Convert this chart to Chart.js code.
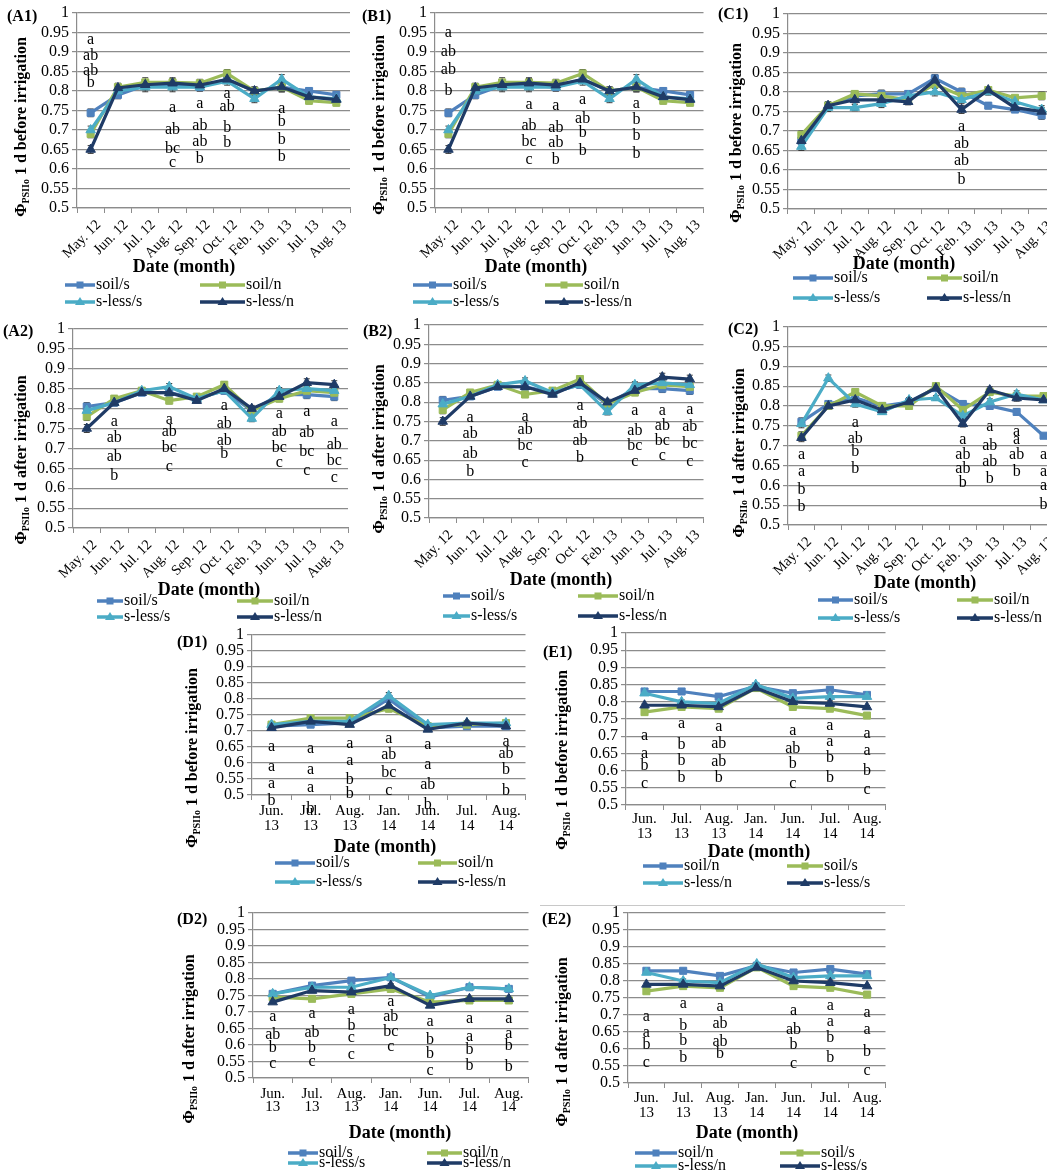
<!DOCTYPE html>
<html>
<head>
<meta charset="utf-8">
<script src="https://cdn.jsdelivr.net/npm/chart.js@4.4.1/dist/chart.umd.min.js"></script>
<style>
  html, body { margin: 0; padding: 0; background: #fff; }
  #fig { position: relative; width: 1047px; height: 1172px; overflow: hidden; }
  #fig canvas { position: absolute; }
  .rule { position: absolute; left: 540px; top: 905px; width: 365px; border-top: 1px solid #c8c8c8; }
</style>
</head>
<body>
<div id="fig"><div class="rule"></div></div>
<script>
// ---- categories / names / ticks ----
const monthsABC = ['May. 12', 'Jun. 12', 'Jul. 12', 'Aug. 12', 'Sep. 12', 'Oct. 12', 'Feb. 13', 'Jun. 13', 'Jul. 13', 'Aug. 13'];
const monthsDE = [['Jun.', '13'], ['Jul.', '13'], ['Aug.', '13'], ['Jan.', '14'], ['Jun.', '14'], ['Jul.', '14'], ['Aug.', '14']];
const seriesNames = ['soil/s', 'soil/n', 's-less/s', 's-less/n'];
const seriesNamesE = ['soil/n', 'soil/s', 's-less/n', 's-less/s'];
const yTickValues = [0.5, 0.55, 0.6, 0.65, 0.7, 0.75, 0.8, 0.85, 0.9, 0.95, 1];

// ---- A1 / B1 : before irrigation ----
const a1SoilS = [0.744, 0.79, 0.815, 0.815, 0.81, 0.83, 0.80, 0.81, 0.80, 0.79];
const a1SoilN = [0.69, 0.81, 0.822, 0.822, 0.82, 0.845, 0.80, 0.81, 0.775, 0.77];
const a1LessS = [0.70, 0.80, 0.81, 0.81, 0.81, 0.825, 0.78, 0.83, 0.785, 0.78];
const a1LessN = [0.65, 0.808, 0.816, 0.82, 0.815, 0.83, 0.80, 0.81, 0.785, 0.778];
const a1Err = [0.01, 0.01, 0.012, 0.012, 0.01, 0.01, 0.01, 0.012, 0.008, 0.008];

// ---- C1 ----
const c1SoilS = [0.675, 0.765, 0.79, 0.795, 0.795, 0.835, 0.80, 0.765, 0.755, 0.74];
const c1SoilN = [0.69, 0.765, 0.795, 0.79, 0.78, 0.82, 0.79, 0.805, 0.785, 0.79];
const c1LessS = [0.66, 0.76, 0.76, 0.77, 0.79, 0.80, 0.78, 0.80, 0.775, 0.755];
const c1LessN = [0.675, 0.765, 0.78, 0.78, 0.775, 0.83, 0.755, 0.805, 0.76, 0.75];
const c1Err = [0.01, 0.01, 0.008, 0.01, 0.008, 0.01, 0.01, 0.008, 0.006, 0.01];

// ---- A2 / B2 : after irrigation ----
const a2SoilS = [0.805, 0.815, 0.84, 0.84, 0.825, 0.845, 0.795, 0.835, 0.835, 0.83];
const a2SoilN = [0.78, 0.825, 0.845, 0.82, 0.83, 0.86, 0.795, 0.825, 0.845, 0.84];
const a2LessS = [0.795, 0.815, 0.845, 0.855, 0.825, 0.845, 0.775, 0.845, 0.85, 0.845];
const a2LessN = [0.75, 0.815, 0.84, 0.84, 0.82, 0.85, 0.80, 0.83, 0.865, 0.86];
const a2Err = [0.01, 0.008, 0.006, 0.008, 0.006, 0.008, 0.008, 0.008, 0.01, 0.01];

// ---- C2 ----
const c2SoilS = [0.76, 0.805, 0.82, 0.80, 0.81, 0.845, 0.805, 0.80, 0.785, 0.725];
const c2SoilN = [0.725, 0.80, 0.835, 0.80, 0.80, 0.85, 0.79, 0.835, 0.825, 0.825];
const c2LessS = [0.755, 0.87, 0.805, 0.785, 0.815, 0.82, 0.775, 0.81, 0.83, 0.815];
const c2LessN = [0.72, 0.80, 0.815, 0.79, 0.81, 0.845, 0.755, 0.84, 0.82, 0.815];
const c2Err = [0.01, 0.008, 0.008, 0.006, 0.006, 0.006, 0.008, 0.008, 0.008, 0.006];

// ---- D1 ----
const d1SoilS = [0.715, 0.72, 0.725, 0.80, 0.71, 0.715, 0.715];
const d1SoilN = [0.72, 0.74, 0.74, 0.77, 0.715, 0.72, 0.725];
const d1LessS = [0.72, 0.73, 0.73, 0.81, 0.72, 0.725, 0.725];
const d1LessN = [0.71, 0.73, 0.72, 0.78, 0.705, 0.725, 0.715];
const d1Err = [0.006, 0.008, 0.006, 0.01, 0.006, 0.006, 0.008];

// ---- E1 / E2 ----
const e1SoilN = [0.83, 0.83, 0.815, 0.845, 0.825, 0.835, 0.82];
const e1SoilS = [0.77, 0.785, 0.78, 0.84, 0.785, 0.78, 0.76];
const e1LessN = [0.825, 0.80, 0.795, 0.85, 0.81, 0.815, 0.815];
const e1LessS = [0.79, 0.79, 0.785, 0.84, 0.80, 0.795, 0.785];
const e1Err = [0.004, 0.006, 0.004, 0.004, 0.004, 0.008, 0.004];

// ---- D2 ----
const d2SoilS = [0.755, 0.78, 0.795, 0.805, 0.745, 0.775, 0.77];
const d2SoilN = [0.745, 0.74, 0.755, 0.77, 0.73, 0.735, 0.735];
const d2LessS = [0.755, 0.775, 0.775, 0.805, 0.75, 0.775, 0.77];
const d2LessN = [0.73, 0.765, 0.76, 0.78, 0.72, 0.74, 0.74];
const d2Err = [0.005, 0.005, 0.005, 0.006, 0.005, 0.005, 0.005];

// ---- significance letters: [category index, letter, value] ----
const a1Letters = [[0,'a',0.932],[0,'ab',0.889],[0,'ab',0.853],[0,'b',0.82],
  [3,'a',0.756],[3,'ab',0.70],[3,'bc',0.652],[3,'c',0.615],
  [4,'a',0.767],[4,'ab',0.711],[4,'ab',0.671],[4,'b',0.626],
  [5,'a',0.793],[5,'ab',0.759],[5,'b',0.705],[5,'b',0.668],
  [7,'a',0.754],[7,'b',0.72],[7,'b',0.675],[7,'b',0.632]];
const b1Letters = [[0,'a',0.948],[0,'ab',0.901],[0,'ab',0.854],[0,'b',0.80],
  [3,'a',0.764],[3,'ab',0.712],[3,'bc',0.669],[3,'c',0.624],
  [4,'a',0.761],[4,'ab',0.706],[4,'ab',0.667],[4,'b',0.624],
  [5,'a',0.777],[5,'ab',0.729],[5,'b',0.693],[5,'b',0.646],
  [7,'a',0.766],[7,'b',0.725],[7,'b',0.684],[7,'b',0.639]];
const c1Letters = [[6,'a',0.711],[6,'ab',0.667],[6,'ab',0.623],[6,'b',0.576]];
const a2Letters = [[1,'a',0.766],[1,'ab',0.727],[1,'ab',0.68],[1,'b',0.632],
  [3,'a',0.772],[3,'ab',0.741],[3,'bc',0.702],[3,'c',0.655],
  [5,'a',0.808],[5,'ab',0.762],[5,'ab',0.72],[5,'b',0.686],
  [7,'a',0.786],[7,'ab',0.741],[7,'bc',0.702],[7,'c',0.663],
  [8,'a',0.791],[8,'ab',0.738],[8,'bc',0.692],[8,'c',0.644],
  [9,'a',0.768],[9,'ab',0.71],[9,'bc',0.669],[9,'c',0.625]];
const b2Letters = [[1,'a',0.76],[1,'ab',0.717],[1,'ab',0.666],[1,'b',0.62],
  [3,'a',0.762],[3,'ab',0.728],[3,'bc',0.687],[3,'c',0.644],
  [5,'a',0.79],[5,'ab',0.744],[5,'ab',0.70],[5,'b',0.657],
  [7,'a',0.778],[7,'ab',0.726],[7,'bc',0.687],[7,'c',0.646],
  [8,'a',0.778],[8,'ab',0.739],[8,'bc',0.70],[8,'c',0.661],
  [9,'a',0.78],[9,'ab',0.736],[9,'bc',0.692],[9,'c',0.645]];
const c2Letters = [[0,'a',0.676],[0,'a',0.634],[0,'b',0.588],[0,'b',0.546],
  [2,'a',0.757],[2,'ab',0.718],[2,'b',0.684],[2,'b',0.642],
  [6,'a',0.715],[6,'ab',0.676],[6,'ab',0.641],[6,'b',0.607],
  [7,'a',0.747],[7,'ab',0.70],[7,'ab',0.659],[7,'b',0.616],
  [8,'a',0.736],[8,'a',0.714],[8,'ab',0.676],[8,'b',0.634],
  [9,'a',0.676],[9,'a',0.634],[9,'a',0.60],[9,'b',0.55]];
const d1Letters = [[0,'a',0.651],[0,'a',0.589],[0,'a',0.536],[0,'b',0.482],
  [1,'a',0.643],[1,'a',0.58],[1,'a',0.521],[1,'b',0.458],
  [2,'a',0.661],[2,'a',0.607],[2,'b',0.547],[2,'b',0.503],
  [3,'a',0.677],[3,'ab',0.625],[3,'bc',0.57],[3,'c',0.514],
  [4,'a',0.658],[4,'a',0.594],[4,'ab',0.531],[4,'b',0.469],
  [6,'a',0.667],[6,'ab',0.63],[6,'b',0.58],[6,'b',0.514]];
const e1Letters = [[0,'a',0.70],[0,'a',0.65],[0,'b',0.614],[0,'c',0.561],
  [1,'a',0.736],[1,'b',0.674],[1,'b',0.629],[1,'b',0.58],
  [2,'a',0.726],[2,'ab',0.678],[2,'ab',0.626],[2,'b',0.58],
  [4,'a',0.717],[4,'ab',0.662],[4,'b',0.619],[4,'c',0.563],
  [5,'a',0.73],[5,'a',0.684],[5,'b',0.638],[5,'b',0.578],
  [6,'a',0.707],[6,'a',0.658],[6,'b',0.599],[6,'c',0.544]];
const d2Letters = [[0,'a',0.686],[0,'ab',0.63],[0,'b',0.591],[0,'c',0.544],
  [1,'a',0.694],[1,'ab',0.638],[1,'b',0.591],[1,'c',0.549],
  [2,'a',0.708],[2,'b',0.657],[2,'c',0.622],[2,'c',0.569],
  [3,'a',0.731],[3,'ab',0.686],[3,'bc',0.64],[3,'c',0.594],
  [4,'a',0.67],[4,'b',0.615],[4,'b',0.574],[4,'c',0.523],
  [5,'a',0.68],[5,'a',0.625],[5,'b',0.586],[5,'b',0.537],
  [6,'a',0.678],[6,'a',0.635],[6,'b',0.597],[6,'b',0.533]];
const e2Letters = [[0,'a',0.696],[0,'a',0.647],[0,'b',0.611],[0,'c',0.559],
  [1,'a',0.732],[1,'b',0.667],[1,'b',0.625],[1,'b',0.574],
  [2,'a',0.723],[2,'ab',0.674],[2,'ab',0.62],[2,'b',0.585],
  [4,'a',0.713],[4,'ab',0.657],[4,'b',0.611],[4,'c',0.557],
  [5,'a',0.727],[5,'a',0.681],[5,'b',0.634],[5,'b',0.574],
  [6,'a',0.706],[6,'a',0.657],[6,'b',0.593],[6,'c',0.536]];

// ---- styles ----
const FONT = '"Liberation Serif", "DejaVu Serif", serif';
Chart.defaults.font.family = FONT;
Chart.defaults.color = '#000';
const gridCol = '#8c8c8c';
const colors = ['#4f81bd', '#9bbb59', '#4bacc6', '#1f3b66'];
const shapes = ['rect', 'rect', 'triangle', 'triangle'];
const before = ' 1 d before irrigation';
const after = ' 1 d after irrigation';

// panel layout (page coordinates)
const panels = [
  { tag: '(A1)', box: [0, 0, 360, 318], plot: [77, 13, 350, 208], labels: monthsABC,
    series: [a1SoilS, a1SoilN, a1LessS, a1LessN], err: a1Err, names: seriesNames, letters: a1Letters,
    tagAt: [7, 17], yTitle: [22, 127, before], xTitle: [184, 267],
    legend: { rows: [285, 302], cols: [[65, 95], [200, 245]] } },
  { tag: '(B1)', box: [345, 0, 365, 318], plot: [435, 13, 705, 208], labels: monthsABC,
    series: [a1SoilS, a1SoilN, a1LessS, a1LessN], err: a1Err, names: seriesNames, letters: b1Letters,
    tagAt: [362, 17], yTitle: [380, 125, before], xTitle: [536, 267],
    legend: { rows: [285, 302], cols: [[413, 452], [545, 583]] } },
  { tag: '(C1)', box: [690, 0, 375, 318], plot: [788, 14, 1055, 209], labels: monthsABC,
    series: [c1SoilS, c1SoilN, c1LessS, c1LessN], err: c1Err, names: seriesNames, letters: c1Letters,
    tagAt: [718, 15], yTitle: [737, 133, before], xTitle: [904, 264],
    legend: { rows: [278, 298], cols: [[793, 833], [927, 962]] } },
  { tag: '(A2)', box: [0, 316, 360, 311], plot: [73, 329, 348, 528], labels: monthsABC,
    series: [a2SoilS, a2SoilN, a2LessS, a2LessN], err: a2Err, names: seriesNames, letters: a2Letters,
    tagAt: [3, 332], yTitle: [22, 460, after], xTitle: [209, 590],
    legend: { rows: [601, 617], cols: [[97, 123], [237, 273]] } },
  { tag: '(B2)', box: [345, 312, 365, 314], plot: [429, 325, 706, 518], labels: monthsABC,
    series: [a2SoilS, a2SoilN, a2LessS, a2LessN], err: a2Err, names: seriesNames, letters: b2Letters,
    tagAt: [363, 332], yTitle: [380, 449, after], xTitle: [561, 580],
    legend: { rows: [596, 616], cols: [[443, 470], [578, 618]] } },
  { tag: '(C2)', box: [690, 314, 375, 314], plot: [788, 326, 1057, 525], labels: monthsABC,
    series: [c2SoilS, c2SoilN, c2LessS, c2LessN], err: c2Err, names: seriesNames, letters: c2Letters,
    tagAt: [728, 330], yTitle: [740, 453, after], xTitle: [925, 583],
    legend: { rows: [600, 618], cols: [[818, 853], [957, 993]] } },
  { tag: '(D1)', box: [160, 622, 372, 270], plot: [252, 635, 527, 795], labels: monthsDE,
    series: [d1SoilS, d1SoilN, d1LessS, d1LessN], err: d1Err, names: seriesNames, letters: d1Letters,
    tagAt: [177, 643], yTitle: [193, 758, before], xTitle: [385, 847], lineH: 15, tickPad: 4,
    legend: { rows: [863, 882], cols: [[275, 315], [418, 457]] } },
  { tag: '(E1)', box: [530, 620, 362, 274], plot: [626, 633, 887, 805], labels: monthsDE,
    series: [e1SoilN, e1SoilS, e1LessN, e1LessS], err: e1Err, names: seriesNamesE, letters: e1Letters,
    tagAt: [543, 653], yTitle: [563, 760, before], xTitle: [759, 852], lineH: 15, tickPad: 2,
    legend: { rows: [866, 883], cols: [[643, 683], [787, 823]] } },
  { tag: '(D2)', box: [160, 900, 375, 272], plot: [253, 913, 530, 1078], labels: monthsDE,
    series: [d2SoilS, d2SoilN, d2LessS, d2LessN], err: d2Err, names: seriesNames, letters: d2Letters,
    tagAt: [177, 920], yTitle: [190, 1039, after], xTitle: [400, 1133], lineH: 13, tickPad: 5,
    legend: { rows: [1153, 1163], cols: [[288, 318], [427, 462]] } },
  { tag: '(E2)', box: [530, 900, 362, 272], plot: [628, 913, 887, 1083], labels: monthsDE,
    series: [e1SoilN, e1SoilS, e1LessN, e1LessS], err: e1Err, names: seriesNamesE, letters: e2Letters,
    tagAt: [542, 920], yTitle: [563, 1042, after], xTitle: [747, 1133], lineH: 15, tickPad: 3,
    legend: { rows: [1153, 1166], cols: [[635, 677], [780, 820]] } }
];

function legendMarker(ctx, shape, x, y, color) {
  ctx.fillStyle = color;
  if (shape === 'rect') {
    ctx.fillRect(x - 3.5, y - 3.5, 7, 7);
  } else {
    ctx.beginPath();
    ctx.moveTo(x, y - 5);
    ctx.lineTo(x + 5, y + 3);
    ctx.lineTo(x - 5, y + 3);
    ctx.closePath();
    ctx.fill();
  }
}

function makePanel(p) {
  const [bx, by, bw, bh] = p.box;
  const [pl, pt, pr, pb] = p.plot;
  const rotated = !Array.isArray(p.labels[0]);
  const xAxisH = rotated ? 50 : 48;

  const canvas = document.createElement('canvas');
  canvas.width = bw;
  canvas.height = bh;
  canvas.style.left = bx + 'px';
  canvas.style.top = by + 'px';
  document.getElementById('fig').appendChild(canvas);

  // error bars under the lines
  const errorBars = {
    id: 'errorBars',
    beforeDatasetsDraw(chart) {
      const ctx = chart.ctx, y = chart.scales.y;
      ctx.save();
      ctx.strokeStyle = '#3a3a3a';
      ctx.lineWidth = 1;
      chart.data.datasets.forEach((ds, i) => {
        chart.getDatasetMeta(i).data.forEach((pt, j) => {
          const e = p.err[j];
          const y0 = y.getPixelForValue(ds.data[j] - e), y1 = y.getPixelForValue(ds.data[j] + e);
          ctx.beginPath();
          ctx.moveTo(pt.x, y0); ctx.lineTo(pt.x, y1);
          ctx.moveTo(pt.x - 3, y0); ctx.lineTo(pt.x + 3, y0);
          ctx.moveTo(pt.x - 3, y1); ctx.lineTo(pt.x + 3, y1);
          ctx.stroke();
        });
      });
      ctx.restore();
    }
  };

  // panel tag, axis titles, legend and letters
  const deco = {
    id: 'deco',
    afterDraw(chart) {
      const ctx = chart.ctx, xs = chart.scales.x, ys = chart.scales.y;
      ctx.save();
      ctx.fillStyle = '#000';
      ctx.textBaseline = 'middle';

      ctx.font = 'bold 16px ' + FONT;
      ctx.textAlign = 'left';
      ctx.fillText(p.tag, p.tagAt[0] - bx, p.tagAt[1] - by);

      ctx.font = 'bold 18px ' + FONT;
      ctx.textAlign = 'center';
      ctx.fillText('Date (month)', p.xTitle[0] - bx, p.xTitle[1] - by);

      // y title with subscript
      const [tx, ty, rest] = p.yTitle;
      ctx.save();
      ctx.translate(tx - bx, ty - by);
      ctx.rotate(-Math.PI / 2);
      ctx.textAlign = 'left';
      ctx.font = 'bold 16px ' + FONT;
      const wPhi = ctx.measureText('\u03A6').width, wRest = ctx.measureText(rest).width;
      ctx.font = 'bold 10px ' + FONT;
      const wSub = ctx.measureText('PSIIo').width;
      const x0 = -(wPhi + wSub + wRest) / 2;
      ctx.font = 'bold 16px ' + FONT;
      ctx.fillText('\u03A6', x0, 0);
      ctx.font = 'bold 10px ' + FONT;
      ctx.fillText('PSIIo', x0 + wPhi, 4);
      ctx.font = 'bold 16px ' + FONT;
      ctx.fillText(rest, x0 + wPhi + wSub, 0);
      ctx.restore();

      // legend, 2 x 2
      ctx.font = '16px ' + FONT;
      ctx.textAlign = 'left';
      p.names.forEach((name, i) => {
        const [l0, l1] = p.legend.cols[i % 2];
        const ry = p.legend.rows[Math.floor(i / 2)] - by;
        ctx.strokeStyle = colors[i];
        ctx.lineWidth = 3.5;
        ctx.beginPath();
        ctx.moveTo(l0 - bx, ry); ctx.lineTo(l1 - bx, ry);
        ctx.stroke();
        legendMarker(ctx, shapes[i], (l0 + l1) / 2 - bx, ry, colors[i]);
        ctx.fillStyle = '#000';
        ctx.fillText(name, l1 - bx + 1, ry);
      });

      // significance letters
      ctx.font = '16px ' + FONT;
      ctx.textAlign = 'center';
      p.letters.forEach(([k, txt, v]) => {
        ctx.fillText(txt, xs.getPixelForValue(k), ys.getPixelForValue(v));
      });
      ctx.restore();
    }
  };

  new Chart(canvas, {
    type: 'line',
    data: {
      labels: p.labels,
      datasets: p.series.map((s, i) => ({
        label: p.names[i],
        data: s,
        borderColor: colors[i],
        backgroundColor: colors[i],
        borderWidth: 3.2,
        pointStyle: shapes[i],
        pointRadius: i < 2 ? 5 : 5.5,
        pointBorderWidth: 1,
        tension: 0,
        order: 3 - i
      }))
    },
    options: {
      responsive: false,
      animation: false,
      devicePixelRatio: 1,
      events: [],
      layout: { padding: { left: 0, top: pt - by, right: bx + bw - pr, bottom: by + bh - pb - xAxisH } },
      plugins: { legend: { display: false }, tooltip: { enabled: false } },
      scales: {
        x: {
          offset: true,
          grid: { offset: true, drawOnChartArea: false, drawTicks: true, tickLength: 5, color: gridCol },
          border: { display: true, color: gridCol, width: 1.2 },
          ticks: {
            autoSkip: false,
            maxRotation: rotated ? 45 : 0,
            minRotation: rotated ? 45 : 0,
            padding: rotated ? 4 : p.tickPad,
            labelOffset: rotated ? 8 : 0,
            font: { size: rotated ? 14.5 : 15, lineHeight: (p.lineH || 16) + 'px' },
            color: '#000'
          },
          afterFit(s) { s.height = xAxisH; }
        },
        y: {
          min: 0.5,
          max: 1,
          afterBuildTicks(s) { s.ticks = yTickValues.map(v => ({ value: v })); },
          grid: { color: gridCol, lineWidth: 1.2, tickLength: 5 },
          border: { display: true, color: gridCol, width: 1.2 },
          ticks: { autoSkip: false, font: { size: 16 }, color: '#000', padding: 3, callback: v => String(+v.toFixed(2)) },
          afterFit(s) { s.width = pl - bx; }
        }
      }
    },
    plugins: [errorBars, deco]
  });
}

panels.forEach(makePanel);
</script>
</body>
</html>
